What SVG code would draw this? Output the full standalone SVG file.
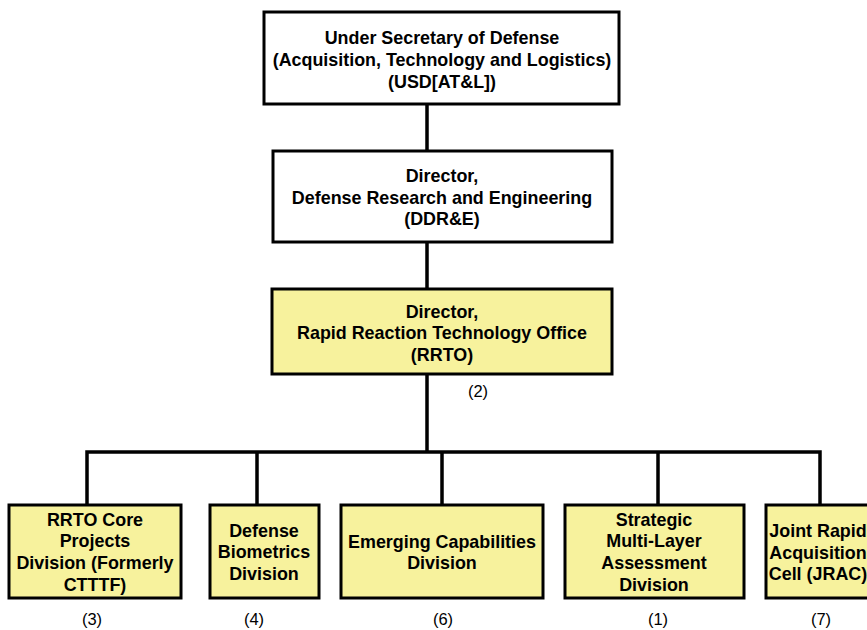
<svg xmlns="http://www.w3.org/2000/svg" width="867" height="630" viewBox="0 0 867 630">
<style>
.box{stroke:#000;stroke-width:3}
.w{fill:#fff}
.y{fill:#F7F29D}
.t{font-family:"Liberation Sans",Arial,sans-serif;font-weight:bold;font-size:17.9px;text-anchor:middle;fill:#000}
.n{font-family:"Liberation Sans",Arial,sans-serif;font-size:16.5px;text-anchor:middle;fill:#000}
.c{stroke:#000;stroke-width:3.5;fill:none}
</style>
<rect width="867" height="630" fill="#fff"/>
<g id="connectors">
<path class="c" d="M427,104 V151 M427,242 V289 M427,374 V452"/>
<path class="c" d="M87,505 V452 H820 V505 M257,452 V505 M442,452 V505 M658,452 V505"/>
</g>
<g id="usd">
<rect class="box w" x="264" y="12" width="355" height="92"/>
<text class="t" x="442" y="44">Under Secretary of Defense</text>
<text class="t" x="442" y="66">(Acquisition, Technology and Logistics)</text>
<text class="t" x="442" y="88">(USD[AT&amp;L])</text>
</g>
<g id="ddre">
<rect class="box w" x="273" y="151" width="339" height="91"/>
<text class="t" x="442" y="182">Director,</text>
<text class="t" x="442" y="204">Defense Research and Engineering</text>
<text class="t" x="442" y="225">(DDR&amp;E)</text>
</g>
<g id="rrto">
<rect class="box y" x="272" y="289" width="340" height="85"/>
<text class="t" x="442" y="318">Director,</text>
<text class="t" x="442" y="339">Rapid Reaction Technology Office</text>
<text class="t" x="442" y="361">(RRTO)</text>
<text class="n" x="478" y="397">(2)</text>
</g>
<g id="core">
<rect class="box y" x="9" y="505" width="172" height="93"/>
<text class="t" x="95" y="526">RRTO Core</text>
<text class="t" x="95" y="547">Projects</text>
<text class="t" x="95" y="569">Division (Formerly</text>
<text class="t" x="95" y="591">CTTTF)</text>
<text class="n" x="92" y="625">(3)</text>
</g>
<g id="biometrics">
<rect class="box y" x="210" y="505" width="109" height="93"/>
<text class="t" x="264" y="537">Defense</text>
<text class="t" x="264" y="558">Biometrics</text>
<text class="t" x="264" y="580">Division</text>
<text class="n" x="254" y="625">(4)</text>
</g>
<g id="emerging">
<rect class="box y" x="341" y="505" width="202" height="93"/>
<text class="t" x="442" y="548">Emerging Capabilities</text>
<text class="t" x="442" y="569">Division</text>
<text class="n" x="443" y="625">(6)</text>
</g>
<g id="strategic">
<rect class="box y" x="565" y="505" width="179" height="93"/>
<text class="t" x="654" y="526">Strategic</text>
<text class="t" x="654" y="547">Multi-Layer</text>
<text class="t" x="654" y="569">Assessment</text>
<text class="t" x="654" y="591">Division</text>
<text class="n" x="658" y="625">(1)</text>
</g>
<g id="jrac">
<rect class="box y" x="766" y="505" width="114" height="93"/>
<text class="t" x="818" y="537">Joint Rapid</text>
<text class="t" x="818" y="559">Acquisition</text>
<text class="t" x="818" y="580">Cell (JRAC)</text>
<text class="n" x="821" y="625">(7)</text>
</g>
</svg>
